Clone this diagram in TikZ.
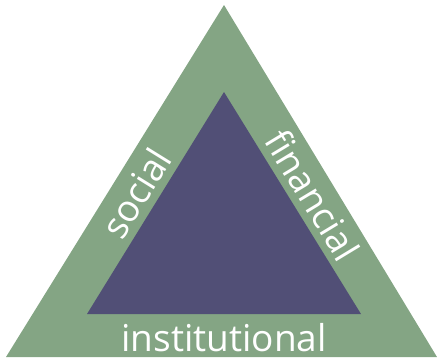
\documentclass[tikz,border=0pt]{standalone}
\usepackage{fontspec}
\setmainfont{Open Sans}
\usepackage{tikz}
\usetikzlibrary{positioning}
\definecolor{bandgreen}{RGB}{132,165,132}
\definecolor{corepurple}{RGB}{81,79,118}

\begin{document}
\begin{tikzpicture}[x=1pt, y=-1pt]
    \tikzset{label/.style={text=white, font=\fontsize{37}{37}\selectfont, inner sep=0pt}}
    \useasboundingbox (0,0) rectangle (437,360);

    % --- outer band ---
    \coordinate (otop) at (224,5);
    \coordinate (oleft) at (6,357);
    \coordinate (oright) at (437,357);
    \fill[bandgreen] (otop) -- (oleft) -- (oright) -- cycle;

    % --- inner core ---
    \coordinate (itop) at (224,92);
    \coordinate (ileft) at (87,314);
    \coordinate (iright) at (361,314);
    \fill[corepurple] (itop) -- (ileft) -- (iright) -- cycle;

    % --- labels along the sides ---
    \node[label, rotate=58.2] (social) at (136,193) {social};
    \node[label, rotate=-58.8] (financial) at (313,195) {financial};
    \node[label, anchor=base] (institutional) at (224,351) {institutional};
\end{tikzpicture}
\end{document}
